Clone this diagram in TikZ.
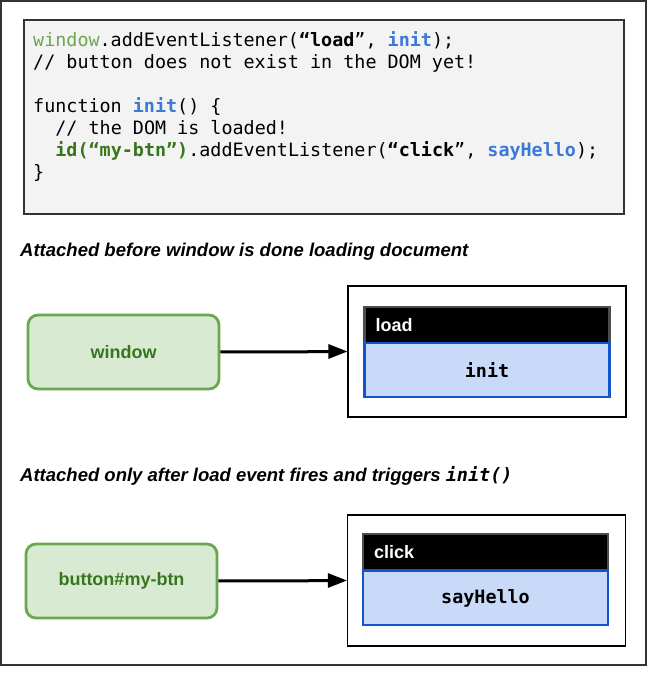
\documentclass[tikz,border=0pt]{standalone}
\usepackage{fontspec}
\setmainfont{Liberation Sans}
\setmonofont{DejaVu Sans Mono}
\usepackage{xcolor}
\usetikzlibrary{arrows.meta}

\definecolor{codebg}{HTML}{F3F3F3}
\definecolor{codeframe}{HTML}{333333}
\definecolor{codewin}{HTML}{6AA84F}
\definecolor{codeid}{HTML}{38761D}
\definecolor{codeblue}{HTML}{3C78D8}
\definecolor{greenfill}{HTML}{D9EAD3}
\definecolor{greenline}{HTML}{6AA84F}
\definecolor{greentext}{HTML}{38761D}
\definecolor{bluefill}{HTML}{C9DAF8}
\definecolor{blueline}{HTML}{1155CC}
\definecolor{headline}{HTML}{4D4D4D}

\tikzset{
	codeline/.style={anchor=base west,inner sep=0pt,font=\fontsize{18.4}{22}\selectfont\ttfamily},
	heading/.style={anchor=base west,inner sep=0pt,font=\fontsize{18.5}{22}\selectfont\bfseries\itshape},
	source/.style={draw=greenline,fill=greenfill,line width=2.8pt,rounded corners=10pt,
		minimum width=191pt,minimum height=74pt,text=greentext,font=\fontsize{18}{22}\selectfont\bfseries},
	holder/.style={draw,line width=1.5pt,minimum width=278pt,minimum height=131pt},
	evthead/.style={draw=headline,fill=black,line width=2.5pt,inner xsep=11pt,text width=223pt,align=left,
		minimum height=36pt,text=white,font=\fontsize{18}{22}\selectfont\bfseries},
	handler/.style={draw=blueline,fill=bluefill,line width=2.5pt,minimum width=245pt,minimum height=54pt,
		font=\fontsize{18.4}{22}\selectfont\ttfamily\bfseries},
	flow/.style={line width=3pt,shorten >=17pt},
	flowtip/.style={fill=black}
}

\begin{document}
\begin{tikzpicture}[x=1pt,y=-1pt]
	\useasboundingbox (0,0) rectangle (647,676);
	\draw[line width=1.5pt,color=codeframe] (1,1) rectangle (646,665);

	\node[draw=codeframe,fill=codebg,line width=2pt,minimum width=600pt,minimum height=194pt] (code) at (323.5,117) {};
	\node[codeline] (l1) at (33,47) {{\color{codewin}window}.addEventListener(\textbf{“load}”, {\bfseries\color{codeblue}init});};
	\node[codeline] (l2) at (33,69) {// button does not exist in the DOM yet!};
	\node[codeline] (l4) at (33,113) {function {\bfseries\color{codeblue}init}() \{};
	\node[codeline] (l5) at (55.2,135) {// the DOM is loaded!};
	\node[codeline] (l6) at (55.2,157) {{\bfseries\color{codeid}id(“my-btn”)}.addEventListener(\textbf{“click}”, {\bfseries\color{codeblue}sayHello});};
	\node[codeline] (l7) at (33,179) {\}};

	\node[heading] (before) at (20,256) {Attached before window is done loading document};

	\node[source] (win) at (123.5,352) {window};
	\node[holder] (loadbox) at (487,351.5) {};
	\node[evthead] (loadhd) at (487,325) {load};
	\node[handler] (inithd) at (487,370) {init};
	\draw[flow] (win) -- (loadbox);
	\fill[flowtip] (loadbox.west) -- ++(-19,-7.5) -- ++(0,15) -- cycle;

	\node[heading] (after) at (20,481) {Attached only after load event fires and triggers \texttt{init()}};

	\node[source] (btn) at (121.5,581) {button\#my-btn};
	\node[holder] (clickbox) at (486.5,580.5) {};
	\node[evthead] (clickhd) at (485.5,552) {click};
	\node[handler] (hello) at (485.5,598) {sayHello};
	\draw[flow] (btn) -- (clickbox);
	\fill[flowtip] (clickbox.west) -- ++(-19,-7.5) -- ++(0,15) -- cycle;
\end{tikzpicture}
\end{document}
